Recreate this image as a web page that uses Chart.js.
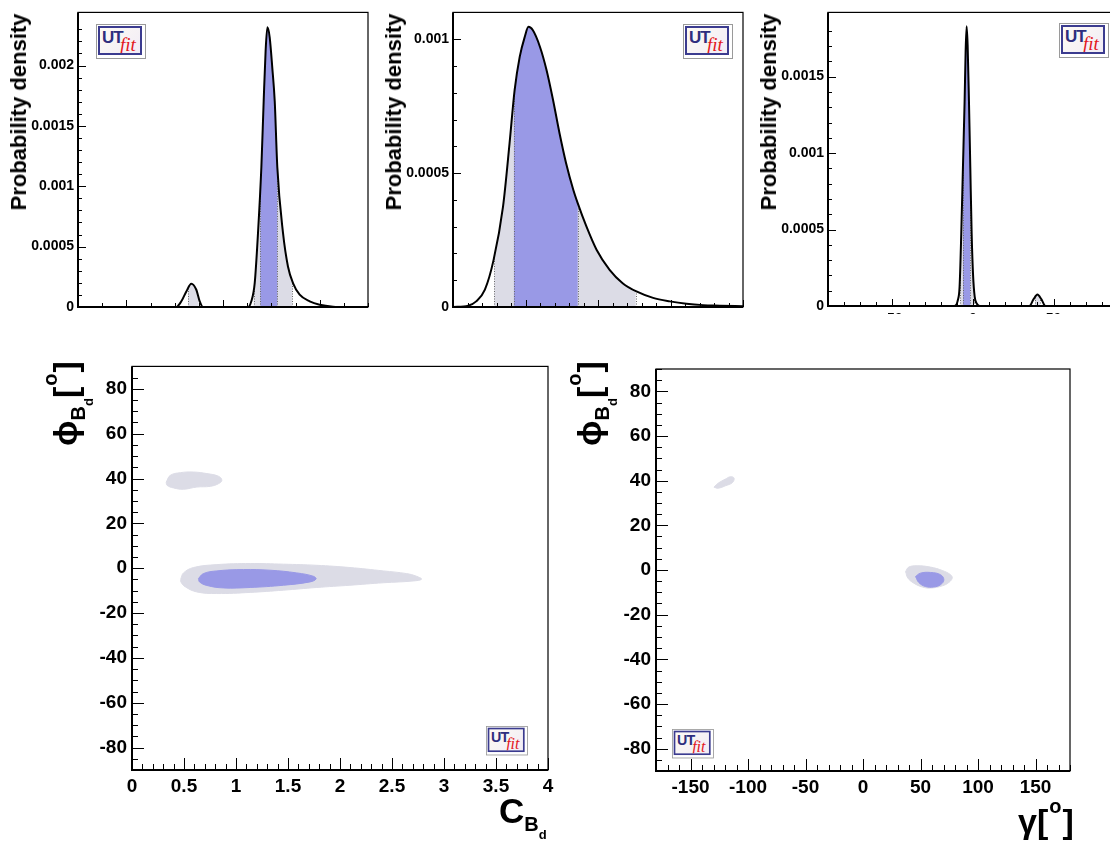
<!DOCTYPE html>
<html>
<head>
<meta charset="utf-8">
<title>UTfit C_Bd / phi_Bd</title>
<script src="https://cdn.jsdelivr.net/npm/chart.js@4.4.1/dist/chart.umd.min.js"></script>
<style>
  html, body { margin: 0; padding: 0; background: #fff; }
  body { position: relative; width: 1110px; height: 841px; overflow: hidden; font-family: 'Liberation Sans', Arial, sans-serif; }
  .box { position: absolute; overflow: hidden; }
  .box canvas { display: block; }
  .ptitle { position: absolute; font: bold 22px 'Liberation Sans', Arial, sans-serif; line-height: 22px;
            white-space: nowrap; transform: translate(-50%, -50%) rotate(-90deg); }
  .t { position: absolute; font: bold 34px 'Liberation Sans', Arial, sans-serif; line-height: 34px; white-space: nowrap; }
  .t.rot { transform-origin: 0 0; transform: rotate(-90deg); }
  .t sub { font-size: 20px; line-height: 0; vertical-align: baseline; position: relative; top: 8px; }
  .t sub sub { font-size: 13px; top: 8px; }
  .t sup { font-size: 20px; line-height: 0; vertical-align: baseline; position: relative; top: -20px; margin: 0 1px; }
  .logo { position: absolute; width: 50px; height: 35px; box-sizing: border-box; border: 1px solid #9a9a9a;
          background: #fff; padding: 1px 3px 3px 1px; transform-origin: 0 0; }
  .logo.small { transform: scale(0.84); }
  .logo .in { position: relative; width: 100%; height: 100%; box-sizing: border-box; border: 2px solid #3b3b8f;
              background: linear-gradient(135deg, #fdfaf4, #f1ecf5); overflow: hidden; }
  .logo .ut { position: absolute; left: 2px; top: 0px; font: bold 17px 'Liberation Sans', Arial, sans-serif; color: #2e2e7e; letter-spacing: -1px; }
  .logo .fit { position: absolute; left: 20px; top: 6px; font: italic 19px 'Liberation Serif', 'DejaVu Serif', serif; color: #e3161c; }
</style>
</head>
<body>

<div class="box" style="left:0;top:0;width:380px;height:314px"><canvas id="c1"></canvas></div>
<div class="box" style="left:375px;top:0;width:380px;height:314px"><canvas id="c2"></canvas></div>
<div class="box" style="left:750px;top:0;width:380px;height:314px"><canvas id="c3"></canvas></div>
<div class="box" style="left:40px;top:350px;width:520px;height:491px"><canvas id="c4"></canvas></div>
<div class="box" style="left:560px;top:350px;width:520px;height:491px"><canvas id="c5"></canvas></div>

<div class="ptitle" style="left:19px;top:112px">Probability density</div>
<div class="ptitle" style="left:394px;top:112px">Probability density</div>
<div class="ptitle" style="left:769px;top:112px">Probability density</div>

<div class="t rot" style="left:48px;top:446px">ϕ<sub>B<sub>d</sub></sub>[<sup>o</sup>]</div>
<div class="t rot" style="left:572px;top:446px">ϕ<sub>B<sub>d</sub></sub>[<sup>o</sup>]</div>
<div class="t" style="left:499px;top:794px;font-size:35px">C<sub>B<sub>d</sub></sub></div>
<div class="t" style="left:1018px;top:804px">γ[<sup>o</sup>]</div>

<div class="logo" style="left:96px;top:24px"><div class="in"><span class="ut">UT</span><span class="fit">fit</span></div></div>
<div class="logo" style="left:683px;top:24px"><div class="in"><span class="ut">UT</span><span class="fit">fit</span></div></div>
<div class="logo" style="left:1059px;top:23px"><div class="in"><span class="ut">UT</span><span class="fit">fit</span></div></div>
<div class="logo small" style="left:486px;top:726px"><div class="in"><span class="ut">UT</span><span class="fit">fit</span></div></div>
<div class="logo small" style="left:672px;top:729px"><div class="in"><span class="ut">UT</span><span class="fit">fit</span></div></div>

<script>
// ---- colours / fonts ----
const FONT = "'Liberation Sans', Arial, sans-serif";
const GREY = '#dcdce6';
const BLUE = '#9999e6';

// ---- top left p.d.f. (tick labels are cut off in the original) ----
const p1X = [-1.5, -0.483, -0.431, -0.379, -0.328, -0.276, -0.241, -0.207, 0.259, 0.293, 0.328, 0.362, 0.397,
             0.421, 0.441, 0.459, 0.483, 0.510, 0.535, 0.562, 0.621, 0.672, 0.724, 0.793, 0.897, 1.0, 1.138, 1.276, 1.5];
const p1Y = [0, 0, 0.000047, 0.000129, 0.000193, 0.000143, 0.000047, 0, 0, 0.000047, 0.000198, 0.000611, 0.001161,
             0.001711, 0.002124, 0.002316, 0.002234, 0.001981, 0.001706, 0.001156, 0.000611, 0.000336, 0.000198,
             0.000102, 0.000047, 0.000019, 0.000003, 0, 0];
const p1Band95 = [[-0.362, -0.252], [0.317, 0.717]];
const p1Band68 = [[0.386, 0.562]];
const p1XLabels = [-1, 0, 1];
const p1YLabels = [0, 0.0005, 0.001, 0.0015, 0.002];

// ---- top middle: C_Bd p.d.f. ----
const p2X = [0, 0.21, 0.32, 0.44, 0.56, 0.69, 0.78, 0.85, 0.92, 0.99, 1.04, 1.10, 1.20, 1.29, 1.38, 1.47, 1.56,
             1.66, 1.72, 1.84, 1.98, 2.16, 2.34, 2.53, 2.76, 2.99, 3.22, 3.45, 3.68, 4.0];
const p2Y = [0, 0.000005, 0.000021, 0.000065, 0.000176, 0.000375, 0.000611, 0.00081, 0.000934, 0.001009, 0.001046,
             0.001034, 0.000971, 0.000885, 0.000773, 0.000648, 0.000537, 0.000437, 0.000388, 0.000301, 0.000214,
             0.000139, 0.000089, 0.000058, 0.000034, 0.000021, 0.000012, 0.000007, 0.000005, 0.0000025];
const p2Band95 = [[0.57, 2.52]];
const p2Band68 = [[0.84, 1.72]];
const p2XLabels = [1, 2, 3, 4];
const p2YLabels = [0, 0.0005, 0.001];

// ---- top right: phi_Bd p.d.f. ----
const p3X = [-90, -11.46, -9.38, -8.33, -7.29, -6.25, -5.21, -4.58, -3.96, -3.33, -2.5, -1.67, -0.83, 0, 1.04,
             2.5, 4.17, 35, 37.5, 40, 42.5, 45, 90];
const p3Y = [0, 0, 0.000039, 0.000125, 0.000472, 0.000905, 0.001338, 0.001662, 0.001829, 0.001706, 0.001338,
             0.000905, 0.000472, 0.000212, 0.000061, 0.000013, 0, 0, 0.000043, 0.000076, 0.000043, 0, 0];
const p3Band95 = [[-7.9, 0.4], [38.5, 41.5]];
const p3Band68 = [[-6.2, -1.7]];
const p3XLabels = [-50, 0, 50];
const p3YLabels = [0, 0.0005, 0.001, 0.0015];

// ---- bottom left: (C_Bd, phi_Bd) contours ----
const cbdUpper95 = [[0.329, 38.4], [0.368, 41.4], [0.464, 42.6], [0.591, 42.9], [0.720, 42.2], [0.832, 41.0],
                    [0.864, 39.2], [0.832, 37.7], [0.752, 36.5], [0.624, 36.2], [0.495, 35.2], [0.399, 35.8], [0.336, 37.0]];
const cbdMain95 = [[0.470, -4.6], [0.495, -2.1], [0.591, 0.3], [0.816, 1.6], [1.136, 2.1], [1.456, 1.8], [1.776, 1.3],
                   [2.096, 0.3], [2.416, -1.2], [2.640, -2.4], [2.736, -3.6], [2.784, -4.9], [2.704, -5.7], [2.416, -6.5],
                   [2.096, -7.6], [1.776, -8.6], [1.456, -9.8], [1.136, -10.8], [0.816, -11.3], [0.624, -10.6],
                   [0.512, -8.3], [0.470, -6.1]];
const cbdMain68 = [[0.639, -4.6], [0.687, -2.4], [0.816, -1.2], [1.072, -0.6], [1.328, -0.9], [1.584, -2.1],
                   [1.744, -3.6], [1.770, -4.8], [1.712, -6.1], [1.456, -7.6], [1.136, -8.6], [0.880, -8.8],
                   [0.720, -7.7], [0.649, -6.1]];
const cbdXLabels = [0, 0.5, 1, 1.5, 2, 2.5, 3, 3.5, 4];
const phiLabels = [-80, -60, -40, -20, 0, 20, 40, 60, 80];

// ---- bottom right: (gamma, phi_Bd) contours ----
const gamUpper95 = [[-129.6, 37.1], [-125.8, 38.9], [-119.7, 40.7], [-115.1, 41.8], [-112.1, 41.1], [-113.6, 39.1],
                    [-119.7, 37.7], [-125.8, 36.6]];
const gamMain95 = [[37.0, -0.7], [39.8, 1.3], [47.1, 1.9], [58.7, 1.3], [68.9, -0.2], [76.1, -2.1], [77.6, -3.6],
                   [74.6, -5.6], [68.9, -7.1], [58.7, -8.1], [51.5, -7.6], [44.2, -5.9], [39.0, -3.6]];
const gamMain68 = [[45.7, -2.9], [50.0, -1.4], [58.7, -1.1], [67.4, -2.1], [70.3, -4.4], [67.4, -6.6], [61.6, -7.6],
                   [54.3, -7.4], [48.5, -5.6]];
const gamXLabels = [-150, -100, -50, 0, 50, 100, 150];

// ---- helpers ----
const isIn = (list, v) => list.some(l => Math.abs(l - v) < 1e-9);
const onStep = (v, step) => Math.abs(v / step - Math.round(v / step)) < 1e-6;
const fmt = v => String(+v.toFixed(6));
const toPts = (xs, ys) => xs.map((x, i) => ({ x: x, y: ys[i] }));
const closed = poly => poly.concat([poly[0]]).map(p => ({ x: p[0], y: p[1] }));

function axis(s, size, pad, fitSize, horizontal) {
  return {
    type: 'linear', min: s.min, max: s.max,
    ticks: {
      stepSize: s.step, autoSkip: false, maxRotation: 0, minRotation: 0, padding: pad, color: '#000',
      font: { family: FONT, size: size, weight: 'bold' },
      callback: v => isIn(s.labels, v) ? fmt(v) : ''
    },
    grid: { display: false, drawTicks: false },
    border: { display: false },
    afterFit: sc => { if (horizontal) sc.height = fitSize; else sc.width = fitSize; }
  };
}

// ROOT-like frame with ticks drawn inside the frame
function rootFrame(spec) {
  return {
    id: 'rootFrame',
    afterDatasetsDraw(chart) {
      const ctx = chart.ctx, a = chart.chartArea;
      ctx.save();
      ctx.strokeStyle = '#000';
      ctx.lineWidth = 1;
      ['x', 'y'].forEach(id => {
        const sc = chart.scales[id], s = spec[id];
        sc.ticks.forEach(t => {
          if (!onStep(t.value, s.step)) return;
          const len = isIn(s.labels, t.value) ? s.big : s.small;
          const p = Math.round(sc.getPixelForValue(t.value)) + 0.5;
          ctx.beginPath();
          if (id === 'x') { ctx.moveTo(p, a.bottom); ctx.lineTo(p, a.bottom - len); }
          else { ctx.moveTo(a.left, p); ctx.lineTo(a.left + len, p); }
          ctx.stroke();
        });
      });
      ctx.lineWidth = 1.2;
      ctx.strokeRect(a.left, a.top, a.right - a.left, a.bottom - a.top);
      ctx.lineWidth = 2;
      ctx.beginPath();
      ctx.moveTo(a.left, a.top); ctx.lineTo(a.left, a.bottom); ctx.lineTo(a.right, a.bottom);
      ctx.stroke();
      ctx.restore();
    }
  };
}

// shaded 68% / 95% intervals under the p.d.f. curve (dataset 0)
function bandFill(band95, band68) {
  return {
    id: 'bandFill',
    beforeDatasetsDraw(chart) {
      const ctx = chart.ctx, a = chart.chartArea;
      const meta = chart.getDatasetMeta(0);
      const line = meta.dataset, pts = meta.data;
      const xs = chart.scales.x, base = chart.scales.y.getPixelForValue(0);
      if (line && line.updateControlPoints) line.updateControlPoints(a, 'x');
      const area = () => {
        ctx.beginPath();
        if (line && typeof line.path === 'function') line.path(ctx);
        else pts.forEach((p, i) => i ? ctx.lineTo(p.x, p.y) : ctx.moveTo(p.x, p.y));
        ctx.lineTo(pts[pts.length - 1].x, base);
        ctx.lineTo(pts[0].x, base);
        ctx.closePath();
      };
      const fillBands = (bands, color) => {
        ctx.save();
        ctx.beginPath();
        bands.forEach(b => {
          const x0 = xs.getPixelForValue(b[0]), x1 = xs.getPixelForValue(b[1]);
          ctx.rect(x0, a.top, x1 - x0, a.bottom - a.top);
        });
        ctx.clip();
        area();
        ctx.fillStyle = color;
        ctx.fill();
        ctx.restore();
      };
      fillBands(band95, GREY);
      fillBands(band68, BLUE);
      // dotted edges of the intervals
      ctx.save();
      area();
      ctx.clip();
      ctx.strokeStyle = '#6a6a6a';
      ctx.lineWidth = 1;
      ctx.setLineDash([1, 1.5]);
      band95.concat(band68).forEach(b => b.forEach(v => {
        const x = Math.round(xs.getPixelForValue(v)) + 0.5;
        ctx.beginPath(); ctx.moveTo(x, base); ctx.lineTo(x, a.top); ctx.stroke();
      }));
      ctx.restore();
    }
  };
}

function makeChart(id, w, h, pad, datasets, spec, fonts, extra) {
  const cv = document.getElementById(id);
  cv.width = w; cv.height = h;
  cv.style.width = w + 'px'; cv.style.height = h + 'px';
  return new Chart(cv, {
    type: 'scatter',
    data: { datasets: datasets },
    options: {
      responsive: false, animation: false, events: [],
      layout: { padding: pad },
      plugins: { legend: { display: false }, tooltip: { enabled: false }, title: { display: false } },
      scales: {
        x: axis(spec.x, fonts.size, fonts.xpad, spec.x.fit, true),
        y: axis(spec.y, fonts.size, fonts.ypad, spec.y.fit, false)
      }
    },
    plugins: (extra || []).concat([rootFrame(spec)])
  });
}

const curve = (xs, ys) => ({
  data: toPts(xs, ys), showLine: true, borderColor: '#000', borderWidth: 2, pointRadius: 0,
  cubicInterpolationMode: 'monotone', fill: false
});
const blob = (poly, color) => ({
  data: closed(poly), showLine: true, fill: 'shape', backgroundColor: color, borderColor: color,
  borderWidth: 1, pointRadius: 0, tension: 0.4
});

const topFont = { size: 14, xpad: 5, ypad: 4 };
const botFont = { size: 19, xpad: 5, ypad: 5 };

makeChart('c1', 380, 335, { top: 12, right: 12, left: 0, bottom: 0 }, [curve(p1X, p1Y)], {
  x: { min: -1.5, max: 1.5, step: 0.25, labels: p1XLabels, big: 7, small: 4, fit: 28 },
  y: { min: 0, max: 0.00244, step: 0.0001, labels: p1YLabels, big: 8, small: 4, fit: 78 }
}, topFont, [bandFill(p1Band95, p1Band68)]);

makeChart('c2', 380, 335, { top: 12, right: 12, left: 0, bottom: 0 }, [curve(p2X, p2Y)], {
  x: { min: 0, max: 4, step: 0.2, labels: p2XLabels, big: 7, small: 4, fit: 28 },
  y: { min: 0, max: 0.0011, step: 0.0001, labels: p2YLabels, big: 8, small: 4, fit: 78 }
}, topFont, [bandFill(p2Band95, p2Band68)]);

makeChart('c3', 380, 335, { top: 10, right: 12, left: 0, bottom: 0 }, [curve(p3X, p3Y)], {
  x: { min: -90, max: 90, step: 10, labels: p3XLabels, big: 7, small: 4, fit: 29 },
  y: { min: 0, max: 0.00192, step: 0.0001, labels: p3YLabels, big: 8, small: 4, fit: 78 }
}, topFont, [bandFill(p3Band95, p3Band68)]);

makeChart('c4', 520, 491, { top: 16, right: 12, left: 0, bottom: 0 },
  [blob(cbdMain68, BLUE), blob(cbdMain95, GREY), blob(cbdUpper95, GREY)], {
  x: { min: 0, max: 4, step: 0.1, labels: cbdXLabels, big: 12, small: 6, fit: 71 },
  y: { min: -90, max: 90, step: 5, labels: phiLabels, big: 12, small: 6, fit: 92 }
}, botFont);

makeChart('c5', 520, 491, { top: 19, right: 10, left: 0, bottom: 0 },
  [blob(gamMain68, BLUE), blob(gamMain95, GREY), blob(gamUpper95, GREY)], {
  x: { min: -180, max: 180, step: 10, labels: gamXLabels, big: 12, small: 6, fit: 70 },
  y: { min: -90, max: 90, step: 5, labels: phiLabels, big: 12, small: 6, fit: 96 }
}, botFont);
</script>
</body>
</html>
